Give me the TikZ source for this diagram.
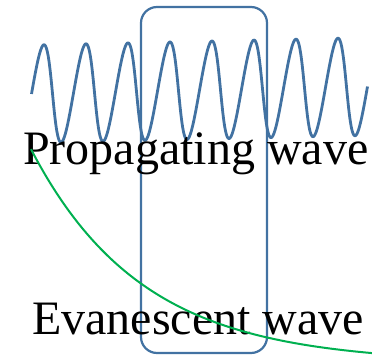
\documentclass[tikz,border=0pt]{standalone}
\usepackage{fontspec}
\setmainfont{Liberation Serif}
\definecolor{waveblue}{RGB}{66,114,162}
\definecolor{evgreen}{RGB}{0,176,80}
\begin{document}
\begin{tikzpicture}[x=1pt,y=-1pt,
  wavestyle/.style={draw=waveblue,line width=2.8pt,line join=round},
  boxstyle/.style={draw=waveblue,line width=2.2pt,rounded corners=16pt,inner sep=0pt},
  labelstyle/.style={inner sep=0pt,anchor=base west,font=\fontsize{48}{58}\selectfont},
  evstyle/.style={draw=evgreen,line width=2pt}]
\useasboundingbox (0,0) rectangle (372,355);
% propagating wave (slightly slanted sine)
\draw[wavestyle] plot[domain=-90:2790,samples=600,variable=\t]
  ({44+0.1166667*\t-2*(1-cos(\t))},{94-(\t+90)/384-49*cos(\t)});
% region box
\node[boxstyle,minimum width=126pt,minimum height=346pt] (box) at (204,180) {};
% labels
\node[labelstyle] (prop) at (23,165) {Propagating wave};
\node[labelstyle] (evan) at (32,334) {Evanescent wave};
% evanescent wave
\draw[evstyle] plot[domain=31:372,samples=120] (\x,{363-210*exp(-0.009*(\x-33))});
\end{tikzpicture}
\end{document}
